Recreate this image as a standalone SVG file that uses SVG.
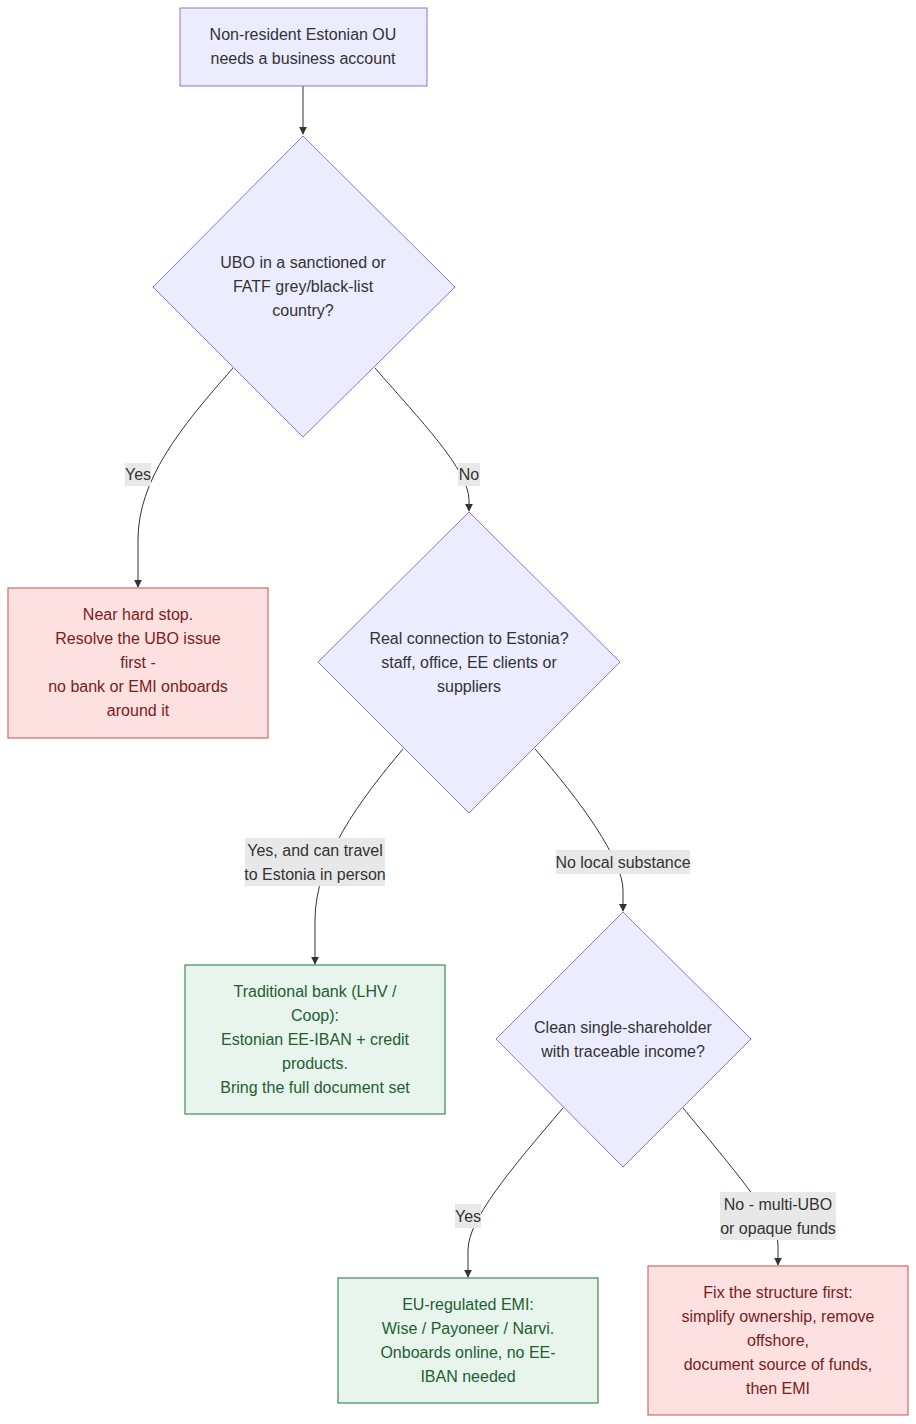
<svg xmlns="http://www.w3.org/2000/svg" width="916" height="1424" viewBox="0 0 916 1424">
<style>
text{font-family:"Liberation Sans",Arial,sans-serif;font-size:16px;text-anchor:middle;fill:#333}
.q{fill:#ECECFF;stroke:#9370DB;stroke-width:1}
.r{fill:#fde0e0;stroke:#d46a6a;stroke-width:1.2}
.r+text,.rt{fill:#7a1c1c}
.g{fill:#e7f5ec;stroke:#3d8a5a;stroke-width:1.2}
.gt{fill:#1f5e32}
.e{fill:none;stroke:#333;stroke-width:1}
.lb{fill:#e8e8e8}
</style>
<defs><marker id="a" viewBox="0 0 10 10" refX="9" refY="5" markerWidth="8" markerHeight="8" orient="auto"><path d="M0,0L10,5L0,10z" fill="#333"/></marker></defs>
<g id="edges">
<path class="e" d="M303,86V134" marker-end="url(#a)"/>
<path class="e" d="M233,368C180,428 138,480 138,540V587" marker-end="url(#a)"/>
<path class="e" d="M375,368C420,420 469,470 469,500V511" marker-end="url(#a)"/>
<path class="e" d="M403,749C360,800 315,860 315,920V964" marker-end="url(#a)"/>
<path class="e" d="M535,749C580,800 623,860 623,890V911" marker-end="url(#a)"/>
<path class="e" d="M563,1108C510,1170 468,1220 468,1250V1277" marker-end="url(#a)"/>
<path class="e" d="M683,1108C730,1165 778,1220 778,1245V1265" marker-end="url(#a)"/>
<rect class="lb" x="125" y="463" width="26" height="23"/><text x="138" y="480">Yes</text>
<rect class="lb" x="458" y="463" width="22" height="23"/><text x="469" y="480">No</text>
<rect class="lb" x="245" y="838" width="140" height="48"/><text x="315" y="856">Yes, and can travel</text><text x="315" y="880">to Estonia in person</text>
<rect class="lb" x="556" y="850" width="134" height="24"/><text x="623" y="868">No local substance</text>
<rect class="lb" x="455" y="1204" width="26" height="24"/><text x="468" y="1222">Yes</text>
<rect class="lb" x="720" y="1192" width="116" height="48"/><text x="778" y="1210">No - multi-UBO</text><text x="778" y="1234">or opaque funds</text>
</g>
<g id="start"><rect class="q" x="180" y="8" width="247" height="78"/><text x="303" y="40">Non-resident Estonian OU</text><text x="303" y="64">needs a business account</text></g>
<g id="d1"><path class="q" d="M303,136L455,287L303,437L153,287z"/><text x="303" y="268">UBO in a sanctioned or</text><text x="303" y="292">FATF grey/black-list</text><text x="303" y="316">country?</text></g>
<g id="stop"><rect class="r" x="8" y="588" width="260" height="150"/><text class="rt" x="138" y="620">Near hard stop.</text><text class="rt" x="138" y="644">Resolve the UBO issue</text><text class="rt" x="138" y="668">first -</text><text class="rt" x="138" y="692">no bank or EMI onboards</text><text class="rt" x="138" y="716">around it</text></g>
<g id="d2"><path class="q" d="M469,512L620,662L469,813L318,662z"/><text x="469" y="644">Real connection to Estonia?</text><text x="469" y="668">staff, office, EE clients or</text><text x="469" y="692">suppliers</text></g>
<g id="bank"><rect class="g" x="185" y="965" width="260" height="149"/><text class="gt" x="315" y="997">Traditional bank (LHV /</text><text class="gt" x="315" y="1021">Coop):</text><text class="gt" x="315" y="1045">Estonian EE-IBAN + credit</text><text class="gt" x="315" y="1069">products.</text><text class="gt" x="315" y="1093">Bring the full document set</text></g>
<g id="d3"><path class="q" d="M623,912L751,1039L623,1167L496,1039z"/><text x="623" y="1033">Clean single-shareholder</text><text x="623" y="1057">with traceable income?</text></g>
<g id="emi"><rect class="g" x="338" y="1278" width="260" height="125"/><text class="gt" x="468" y="1310">EU-regulated EMI:</text><text class="gt" x="468" y="1334">Wise / Payoneer / Narvi.</text><text class="gt" x="468" y="1358">Onboards online, no EE-</text><text class="gt" x="468" y="1382">IBAN needed</text></g>
<g id="fix"><rect class="r" x="648" y="1266" width="260" height="149"/><text class="rt" x="778" y="1298">Fix the structure first:</text><text class="rt" x="778" y="1322">simplify ownership, remove</text><text class="rt" x="778" y="1346">offshore,</text><text class="rt" x="778" y="1370">document source of funds,</text><text class="rt" x="778" y="1394">then EMI</text></g>
</svg>
